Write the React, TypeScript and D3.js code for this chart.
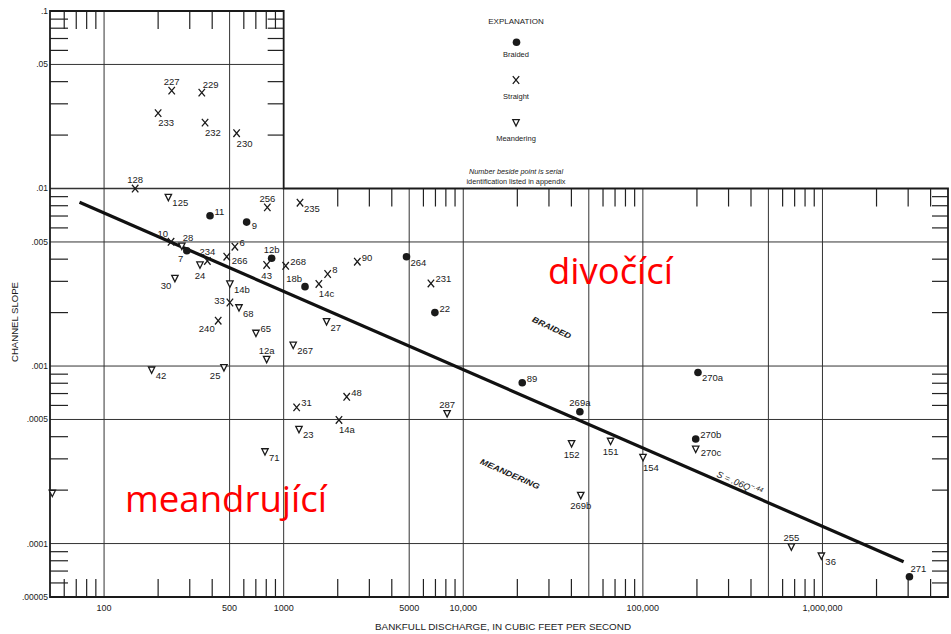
import React from "react";
import * as d3 from "d3";

// ---- data ----
const siteIds = ["227","229","233","232","230","128","125","11","9","256","235","10","28","7","234","24","30","6","266","12b","43","268","18b","14b","33","68","240","65","12a","267","42","25","31","23","71","","90","8","14c","264","231","22","27","89","48","14a","287","269a","152","269b","270a","151","154","270b","270c","255","36","271"];
const discharge = [238,350,200,365,547,149,228,389,622,811,1233,236,271,289,376,342,248,535,482,857,804,1026,1315,502,502,564,432,701,804,1130,184,465,1181,1217,787,51.5,2571,1758,1570,4830,6607,6950,1733,21300,2244,2032,8130,44600,40100,45100,202700,66100,100200,196900,196900,671000,986000,3050000];
const slope = [0.0356,0.0347,0.0266,0.0235,0.0205,0.0100,0.00892,0.00703,0.00647,0.00783,0.00832,0.00501,0.00474,0.00446,0.00391,0.00371,0.00312,0.00470,0.00413,0.00405,0.00371,0.00367,0.00280,0.00290,0.00228,0.00213,0.00180,0.00153,0.00109,0.00131,0.00095,0.00098,0.000585,0.00044,0.000329,0.000192,0.00387,0.0033,0.0029,0.00413,0.00292,0.0020,0.00178,0.000805,0.000671,0.000497,0.00054,0.000553,0.000366,0.000187,0.00092,0.000377,0.000306,0.000388,0.00034,0.0000959,0.0000851,0.000065];
// B = braided, S = straight, M = meandering
const channelType = ["S","S","S","S","S","S","M","B","B","S","S","S","M","B","S","M","M","S","S","B","S","S","B","M","S","M","S","M","M","M","M","M","S","M","M","M","S","S","S","B","S","B","M","B","S","S","M","B","M","M","B","M","M","B","M","M","M","B"];
const labelPos = ["n","nne","se","se","se","n","ese","ne","e","n","ese","nw","nne","sw","n","s","sw","ne","e","n","s","ne","nw","ese","w","ese","sw","ne","n","ese","ese","sw","ne","ese","ese","none","ne","ne","se","ese","ne","ne","ese","ne","ne","se","n","n","s","s","ese","s","se","ne","e","n","ese","nne"];

const lineQ = [73, 2830000];
const lineS = [0.00836, 0.000079];

const xTickValues = [100, 500, 1000, 5000, 10000, 100000, 1000000];
const xTickLabels = ["100", "500", "1000", "5000", "10,000", "100,000", "1,000,000"];
const yTickValues = [0.1, 0.05, 0.01, 0.005, 0.001, 0.0005, 0.0001, 0.00005];
const yTickLabels = [".1", ".05", ".01", ".005", ".001", ".0005", ".0001", ".00005"];
const xGridValues = [100, 500, 1000, 5000, 10000, 50000, 100000, 500000, 1000000];
const yGridMain = [0.005, 0.001, 0.0005, 0.0001];
const yGridUpper = [0.05];

const W = 951, H = 634;
const FONT = "'Liberation Sans', Arial, sans-serif";
const INK = "#1a1a1a";

const x = d3.scaleLog().domain([50, 5e6]).range([50, 948]);
const y = d3.scaleLog().domain([0.00005, 0.1]).range([597, 11]);

const offs: Record<string, [number, number, string]> = {
  n: [0, -5.6, "middle"],
  nne: [1, -5.1, "start"],
  ne: [4.5, -1.1, "start"],
  e: [5, 7, "start"],
  ese: [4, 9, "start"],
  se: [0, 13.4, "start"],
  s: [0, 14, "middle"],
  sw: [-3.5, 11, "end"],
  w: [-5, 1.5, "end"],
  nw: [-3, -4.6, "end"],
};

function Marker({ t, cx, cy }: { t: string; cx: number; cy: number }) {
  if (t === "B") return <circle cx={cx} cy={cy} r={3.8} fill={INK} />;
  if (t === "S")
    return (
      <path
        d={`M${cx - 3.2},${cy - 3.8}L${cx + 3.2},${cy + 3.8}M${cx + 3.2},${cy - 3.8}L${cx - 3.2},${cy + 3.8}`}
        stroke={INK}
        strokeWidth={1.3}
        fill="none"
      />
    );
  return (
    <path
      d={`M${cx - 3.2},${cy - 3}L${cx + 3.2},${cy - 3}L${cx},${cy + 3.4}Z`}
      stroke={INK}
      strokeWidth={1.3}
      fill="white"
    />
  );
}

export default function App() {
  const minorX = x.ticks().filter((v) => {
    const lead = Math.round(v / Math.pow(10, Math.floor(Math.log10(v) + 1e-9)));
    return lead !== 1 && lead !== 5 && v > 50 && v < 5e6;
  });
  const minorY = y.ticks().filter((v) => {
    const lead = Math.round(v / Math.pow(10, Math.floor(Math.log10(v) + 1e-9)));
    return lead !== 1 && lead !== 5 && v > 0.00005 && v < 0.1;
  });

  const x0 = x(50), x1k = x(1000), xR = x(5e6);
  const yTop = y(0.1), y01 = y(0.01), yB = y(0.00005);
  const TL = 18;

  const lineGen = d3
    .line<number>()
    .x((_, i) => x(lineQ[i]))
    .y((_, i) => y(lineS[i]));

  const lx0 = x(lineQ[0]), ly0 = y(lineS[0]), lx1 = x(lineQ[1]), ly1 = y(lineS[1]);
  const ang = (Math.atan2(ly1 - ly0, lx1 - lx0) * 180) / Math.PI;
  const labX = 737;
  const labY = ly0 + ((labX - lx0) * (ly1 - ly0)) / (lx1 - lx0);

  const outline = `M${x0},${y01}L${x0},${yTop}L${x1k},${yTop}L${x1k},${y01}L${xR},${y01}L${xR},${yB}L${x0},${yB}Z`;

  return (
    <svg
      width={W}
      height={H}
      style={{ position: "absolute", left: 0, top: 0, background: "white" }}
      fontFamily={FONT}
    >
      <rect width={W} height={H} fill="white" />
      {/* grid */}
      <g stroke="#333" strokeWidth={1}>
        {xGridValues.map((v) => (
          <line key={"gx" + v} x1={x(v)} x2={x(v)} y1={v < 1000 ? yTop : y01} y2={yB} />
        ))}
        {yGridMain.map((v) => (
          <line key={"gy" + v} x1={x0} x2={xR} y1={y(v)} y2={y(v)} />
        ))}
        {yGridUpper.map((v) => (
          <line key={"gu" + v} x1={x0} x2={x1k} y1={y(v)} y2={y(v)} />
        ))}
        <line x1={x0} x2={x1k} y1={y01} y2={y01} strokeWidth={1.5} />
      </g>
      {/* minor ticks */}
      <g stroke="#222" strokeWidth={1.2}>
        {minorX.map((v) => (
          <line key={"bt" + v} x1={x(v)} x2={x(v)} y1={yB} y2={yB - TL} />
        ))}
        {minorX.map((v) =>
          v < 1000 ? (
            <line key={"tt" + v} x1={x(v)} x2={x(v)} y1={yTop} y2={yTop + TL} />
          ) : (
            <line key={"tt" + v} x1={x(v)} x2={x(v)} y1={y01} y2={y01 + TL} />
          )
        )}
        {minorY.map((v) => (
          <line key={"lt" + v} x1={x0} x2={x0 + TL} y1={y(v)} y2={y(v)} />
        ))}
        {minorY.map((v) =>
          v < 0.01 ? (
            <line key={"rt" + v} x1={xR} x2={xR - 16} y1={y(v)} y2={y(v)} />
          ) : (
            <line key={"rt" + v} x1={x1k} x2={x1k - 16} y1={y(v)} y2={y(v)} />
          )
        )}
      </g>
      <path d={outline} fill="none" stroke={INK} strokeWidth={1.8} />

      {/* tick labels */}
      <g fontSize={8.5} fill={INK}>
        {yTickValues.map((v, i) => (
          <text key={"yl" + v} x={48} y={y(v)} dy="0.35em" textAnchor="end">
            {yTickLabels[i]}
          </text>
        ))}
        {xTickValues.map((v, i) => (
          <text key={"xl" + v} x={x(v)} y={611} textAnchor="middle" fontSize={9}>
            {xTickLabels[i]}
          </text>
        ))}
      </g>
      <text
        x={503}
        y={630}
        textAnchor="middle"
        fontSize={8.5}
        fill={INK}
        textLength={256}
        lengthAdjust="spacingAndGlyphs"
      >
        BANKFULL DISCHARGE, IN CUBIC FEET PER SECOND
      </text>
      <text
        transform="translate(18,322) rotate(-90)"
        textAnchor="middle"
        fontSize={8.5}
        fill={INK}
        textLength={80}
        lengthAdjust="spacingAndGlyphs"
      >
        CHANNEL SLOPE
      </text>

      {/* regression line */}
      <path d={lineGen(lineQ) || ""} fill="none" stroke="#111" strokeWidth={3.2} />
      <text
        transform={`translate(${labX},${labY}) rotate(${ang}) translate(0,-3)`}
        textAnchor="middle"
        fontSize={9}
        fontStyle="italic"
        fill={INK}
      >
        S = .06Q
        <tspan dy={-4} fontSize={6.5}>
          −.44
        </tspan>
      </text>
      <text
        transform={`translate(551.7,327.7) rotate(25)`}
        textAnchor="middle"
        dy="0.35em"
        fontSize={8}
        fontStyle="italic"
        fontWeight="bold"
        fill={INK}
        textLength={42}
        lengthAdjust="spacingAndGlyphs"
      >
        BRAIDED
      </text>
      <text
        transform={`translate(510,474) rotate(24)`}
        textAnchor="middle"
        dy="0.35em"
        fontSize={8}
        fontStyle="italic"
        fontWeight="bold"
        fill={INK}
        textLength={64}
        lengthAdjust="spacingAndGlyphs"
      >
        MEANDERING
      </text>

      {/* points */}
      <g>
        {siteIds.map((id, i) => {
          const cx = x(discharge[i]);
          const cy = y(slope[i]);
          const o = offs[labelPos[i]];
          return (
            <g key={"p" + i}>
              <Marker t={channelType[i]} cx={cx} cy={cy} />
              {o && id && (
                <text x={cx + o[0]} y={cy + o[1]} textAnchor={o[2]} fontSize={9.5} fill={INK}>
                  {id}
                </text>
              )}
            </g>
          );
        })}
      </g>

      {/* legend */}
      <g fill={INK} textAnchor="middle">
        <text x={516} y={24} fontSize={8}>EXPLANATION</text>
        <Marker t="B" cx={516.5} cy={42.3} />
        <text x={516} y={57} fontSize={7.5}>Braided</text>
        <Marker t="S" cx={516} cy={80} />
        <text x={516} y={98.5} fontSize={7.5}>Straight</text>
        <Marker t="M" cx={516} cy={122.7} />
        <text x={516} y={140.5} fontSize={7.5}>Meandering</text>
        <text x={516} y={173.5} fontSize={7.3} fontStyle="italic">Number beside point is serial</text>
        <text x={516} y={184} fontSize={7.3}>identification listed in appendix</text>
      </g>

      {/* red annotations */}
      <text
        x={548}
        y={284}
        fontSize={36}
        fill="#ff0000"
        fontFamily="'Open Sans', 'Noto Sans', sans-serif"
        textLength={125}
        lengthAdjust="spacingAndGlyphs"
      >
        divočící
      </text>
      <text
        x={125}
        y={512}
        fontSize={36}
        fill="#ff0000"
        fontFamily="'Open Sans', 'Noto Sans', sans-serif"
        textLength={202}
        lengthAdjust="spacingAndGlyphs"
      >
        meandrující
      </text>
    </svg>
  );
}
